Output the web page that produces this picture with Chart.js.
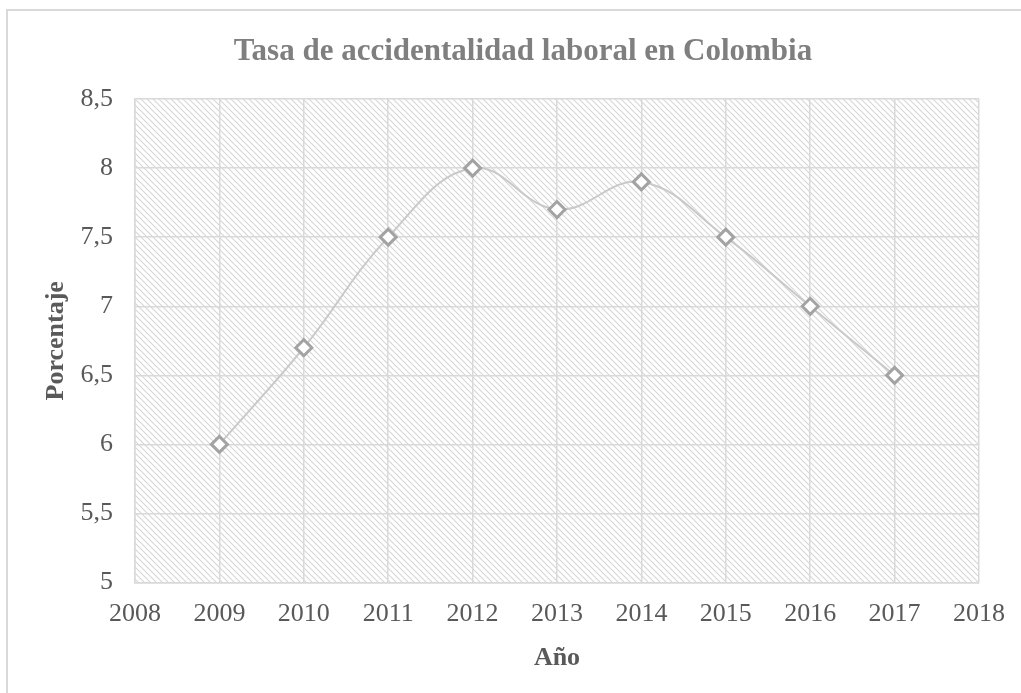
<!DOCTYPE html>
<html>
<head>
<meta charset="utf-8">
<script src="https://cdn.jsdelivr.net/npm/chart.js@4"></script>
<style>
  body { margin: 0; background: #fff; overflow: hidden; }
  #marco { position: absolute; left: 6px; top: 9px; width: 1100px; height: 800px; border: 2px solid #d9d9d9; box-sizing: border-box; }
  #myChart { position: absolute; left: 0; top: 0; }
</style>
</head>
<body>
<div id="marco"></div>
<canvas id="myChart" width="1021" height="693"></canvas>
<script>
const anios = [2009, 2010, 2011, 2012, 2013, 2014, 2015, 2016, 2017]
const tasa = [6, 6.7, 7.5, 8, 7.7, 7.9, 7.5, 7, 6.5]
const ejeX = { min: 2008, max: 2018, paso: 1 }
const ejeY = { min: 5, max: 8.5, paso: 0.5 }
const titulo = 'Tasa de accidentalidad laboral en Colombia'

const fuente = "'Liberation Serif', 'Times New Roman', serif"

// trama diagonal del fondo
const trama = document.createElement('canvas')
trama.width = 6
trama.height = 6
const tctx = trama.getContext('2d')
tctx.strokeStyle = '#d6d6d6'
tctx.lineWidth = 1.1
tctx.beginPath()
tctx.moveTo(-1, -1); tctx.lineTo(7, 7)
tctx.moveTo(-4, 2); tctx.lineTo(2, 8)
tctx.moveTo(2, -4); tctx.lineTo(8, 2)
tctx.stroke()

const fondoTrama = {
    id: 'fondoTrama',
    beforeDraw(chart) {
        const a = chart.chartArea
        const ctx = chart.ctx
        ctx.save()
        ctx.fillStyle = ctx.createPattern(trama, 'repeat')
        ctx.fillRect(a.left, a.top, a.right - a.left, a.bottom - a.top)
        ctx.restore()
    }
}

// titulo centrado sobre el marco completo (no sobre el lienzo recortado)
const tituloMarco = {
    id: 'tituloMarco',
    afterDraw(chart) {
        const ctx = chart.ctx
        ctx.save()
        ctx.font = 'bold 31px ' + fuente
        ctx.fillStyle = '#7f7f7f'
        ctx.textAlign = 'center'
        ctx.textBaseline = 'middle'
        ctx.fillText(titulo, 523, 52)
        ctx.restore()
    }
}

const data = {
    datasets: [{
        label: 'Tasa',
        data: anios.map((a, i) => ({ x: a, y: tasa[i] })),
        borderColor: '#c9c9c9',
        borderWidth: 2,
        tension: 0.4,
        pointStyle: 'rectRot',
        pointRadius: 8,
        pointBorderWidth: 3,
        pointBorderColor: '#a3a3a3',
        pointBackgroundColor: '#ffffff'
    }]
}

const config = {
    type: 'line',
    data: data,
    options: {
        responsive: false,
        animation: false,
        layout: { padding: { left: 0, right: 42, top: 99, bottom: 19 } },
        plugins: {
            legend: { display: false },
            tooltip: { enabled: false },
            title: { display: false }
        },
        scales: {
            x: {
                type: 'linear',
                min: ejeX.min,
                max: ejeX.max,
                ticks: {
                    stepSize: ejeX.paso,
                    color: '#595959',
                    font: { family: fuente, size: 26 },
                    padding: 16,
                    callback: (v) => String(v)
                },
                grid: { color: '#d9d9d9', lineWidth: 1.5, drawTicks: false },
                border: { color: '#d9d9d9', width: 1.5 },
                title: {
                    display: true,
                    text: 'Año',
                    color: '#595959',
                    font: { family: fuente, size: 26, weight: 'bold' },
                    padding: { top: -3, bottom: 0 }
                }
            },
            y: {
                min: ejeY.min,
                max: ejeY.max,
                afterFit: (s) => { s.width = 135 },
                ticks: {
                    stepSize: ejeY.paso,
                    color: '#595959',
                    font: { family: fuente, size: 26 },
                    padding: 22,
                    callback: (v) => String(v).replace('.', ',')
                },
                grid: { color: '#d9d9d9', lineWidth: 1.5, drawTicks: false },
                border: { color: '#d9d9d9', width: 1.5 },
                title: {
                    display: true,
                    text: 'Porcentaje',
                    color: '#595959',
                    font: { family: fuente, size: 26, weight: 'bold' },
                    padding: { top: 41, bottom: 0 }
                }
            }
        }
    },
    plugins: [fondoTrama, tituloMarco]
}

const ctx = document.getElementById('myChart')
new Chart(ctx, config)
</script>
</body>
</html>
